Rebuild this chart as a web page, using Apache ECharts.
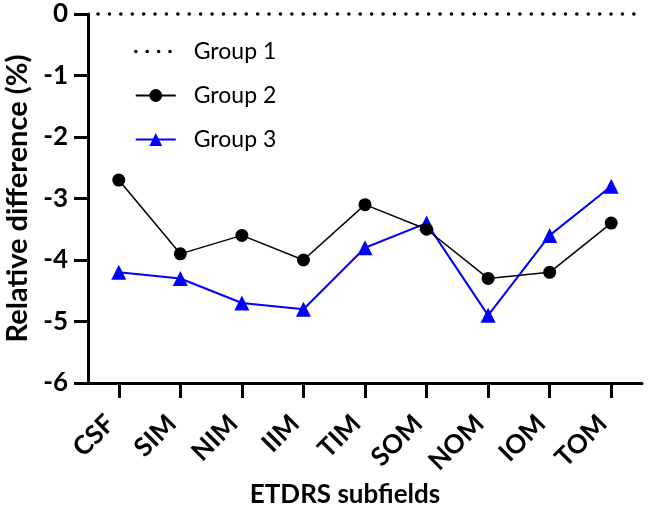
<!DOCTYPE html>
<html>
<head>
<meta charset="utf-8">
<script src="https://cdn.jsdelivr.net/npm/echarts@6/dist/echarts.min.js"></script>
<style>
  html, body { margin: 0; padding: 0; background: #fff; }
  #chart { width: 649px; height: 512px; }
</style>
</head>
<body>
<div id="chart"></div>
<script>
// ETDRS subfields
let subfields = ['CSF', 'SIM', 'NIM', 'IIM', 'TIM', 'SOM', 'NOM', 'IOM', 'TOM'];
let group1 = [0, 0, 0, 0, 0, 0, 0, 0, 0];
let group2 = [-2.7, -3.9, -3.6, -4.0, -3.1, -3.5, -4.3, -4.2, -3.4];
let group3 = [-4.2, -4.3, -4.7, -4.8, -3.8, -3.4, -4.9, -3.6, -2.8];

let myChart = echarts.init(document.getElementById('chart'));

let font = 'Lato';
let dotted = [0.1, 11.3];

let option = {
    animation: false,
    textStyle: { fontFamily: font },
    grid: { left: 88, top: 14, right: 7, bottom: 129, containLabel: false, outerBoundsMode: 'none' },
    legend: {
        orient: 'vertical',
        left: 129,
        top: 35,
        itemWidth: 40,
        itemHeight: 16,
        itemGap: 21,
        textStyle: { fontFamily: font, fontSize: 23, color: '#000', padding: [0, 0, 0, 13] },
        data: [
            {
                name: 'Group 1',
                itemStyle: { opacity: 0 },
                lineStyle: { width: 3.5, color: '#000', type: dotted, cap: 'round', opacity: 1 }
            },
            { name: 'Group 2' },
            { name: 'Group 3' }
        ]
    },
    xAxis: {
        type: 'category',
        data: subfields,
        boundaryGap: true,
        axisLine: { show: true, onZero: false, lineStyle: { color: '#000', width: 3 } },
        axisTick: { show: true, alignWithLabel: true, length: 15, lineStyle: { color: '#000', width: 3 } },
        axisLabel: {
            interval: 0,
            rotate: 45,
            margin: 28,
            padding: [0, 12, 0, 0],
            fontFamily: font,
            fontSize: 26,
            fontWeight: 'bold',
            color: '#000'
        },
        name: 'ETDRS subfields',
        nameLocation: 'middle',
        nameGap: 96,
        nameTextStyle: { fontFamily: font, fontSize: 26, fontWeight: 'bold', color: '#000', padding: [0, 40, 0, 0] }
    },
    yAxis: {
        type: 'value',
        min: -6,
        max: 0,
        interval: 1,
        splitLine: { show: false },
        axisLine: { show: true, lineStyle: { color: '#000', width: 3 } },
        axisTick: { show: true, length: 14, lineStyle: { color: '#000', width: 3 } },
        axisLabel: {
            margin: 20,
            fontFamily: font,
            fontSize: 26,
            fontWeight: 'bold',
            color: '#000'
        },
        name: 'Relative difference (%)',
        nameLocation: 'middle',
        nameRotate: 90,
        nameGap: 45,
        nameTextStyle: { fontFamily: font, fontSize: 29, fontWeight: 'bold', color: '#000' }
    },
    series: [
        {
            name: 'Group 1',
            type: 'line',
            data: group1,
            showSymbol: false,
            symbol: 'none',
            itemStyle: { color: '#000' },
            lineStyle: { width: 3.5, color: '#000', type: dotted, cap: 'round', opacity: 0 },
            // Group 1 is the reference line, drawn across the whole plot
            markLine: {
                silent: true,
                symbol: ['none', 'none'],
                label: { show: false },
                data: [{ yAxis: group1[0] }],
                lineStyle: { width: 3.5, color: '#000', type: dotted, cap: 'round', dashOffset: -10 }
            },
            z: 1
        },
        {
            name: 'Group 2',
            type: 'line',
            data: group2,
            symbol: 'circle',
            symbolSize: 13,
            itemStyle: { color: '#000' },
            lineStyle: { width: 1.5, color: '#000' },
            z: 4
        },
        {
            name: 'Group 3',
            type: 'line',
            data: group3,
            symbol: 'triangle',
            symbolSize: 15,
            itemStyle: { color: '#0000ff' },
            lineStyle: { width: 2, color: '#0000ff' },
            z: 3
        }
    ]
};

myChart.setOption(option);
</script>
</body>
</html>
